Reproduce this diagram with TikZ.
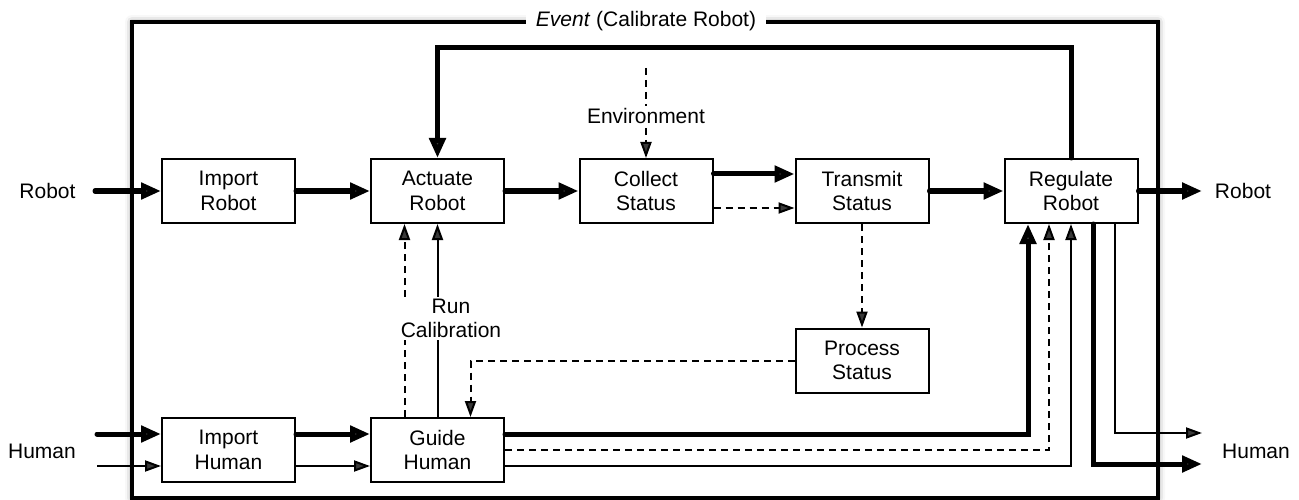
\documentclass[tikz,border=0pt]{standalone}
\usepackage{fontspec}
\setmainfont{Liberation Sans}
\usetikzlibrary{arrows.meta,shadows.blur}

\tikzset{
  block/.style={draw, line width=2pt, minimum width=133pt, minimum height=64pt, inner sep=0pt, align=center},
  big/.style={line width=5pt, line cap=round, -{Triangle[length=20pt,width=16pt]}},
  small/.style={line width=2pt, -{Triangle[length=16pt,width=11pt]}},
  dashflow/.style={small, dash pattern=on 7pt off 5pt},
  tag/.style={fill=white, inner sep=2pt, align=center},
}

\begin{document}
\begin{tikzpicture}[x=1pt,y=-1pt,font=\fontsize{21}{24.5}\selectfont]
    \useasboundingbox (0,0) rectangle (1299,500);
    \draw[line width=4pt, fill=white, blur shadow={shadow xshift=0pt, shadow yshift=0pt, shadow blur radius=7pt, shadow opacity=45}] (132,22) rectangle (1158,498);
    \node[fill=white, inner xsep=10pt, inner ysep=2pt] (title) at (646,21) {\textit{Event} (Calibrate Robot)};

    \node[block] (improb) at (228.5,191) {Import\\Robot};
    \node[block] (act) at (437.5,191) {Actuate\\Robot};
    \node[block] (coll) at (646,191) {Collect\\Status};
    \node[block] (trans) at (862,191) {Transmit\\Status};
    \node[block] (reg) at (1071,191) {Regulate\\Robot};
    \node[block] (proc) at (862,360.5) {Process\\Status};
    \node[block] (imphum) at (228.5,450) {Import\\Human};
    \node[block] (guide) at (437.5,450) {Guide\\Human};

    \node (robotin) at (47.5,191) {Robot};
    \node (humanin) at (42,451) {Human};
    \node (robotout) at (1243,191) {Robot};
    \node (humanout) at (1256,451) {Human};
    \coordinate (rin) at (95,191);
    \coordinate (hin1) at (97,434);
    \coordinate (hin2) at (97,466);
    \coordinate (rout) at (1202,191);
    \coordinate (hout1) at (1202,433);
    \coordinate (hout2) at (1202,464);
    \coordinate (looptop) at (437.5,48);
    \coordinate (envin) at (646,68);

    \draw[big] (rin) -- (improb.west);
    \draw[big] (improb.east) -- (act.west);
    \draw[big] (act.east) -- (coll.west);
    \draw[big] ([yshift=17pt]coll.east) -- ([yshift=17pt]trans.west);
    \draw[dashflow] ([yshift=-17pt]coll.east) -- ([yshift=-17pt]trans.west);
    \draw[big] (trans.east) -- (reg.west);
    \draw[big] (reg.east) -- (rout);
    \draw[big] (reg.north) |- (looptop) -- (act.north);
    \draw[dashflow] (envin) -- (coll.north);
    \draw[dashflow] (trans.south) -- (proc.north);
    \draw[dashflow] (proc.west) -| ([xshift=33pt]guide.north);
    \draw[small] (guide.north) -- (act.south);
    \draw[dashflow] ([xshift=-33pt]guide.north) -- ([xshift=-33pt]act.south);

    \draw[big] (hin1) -- ([yshift=16pt]imphum.west);
    \draw[small] (hin2) -- ([yshift=-16pt]imphum.west);
    \draw[big] ([yshift=16pt]imphum.east) -- ([yshift=16pt]guide.west);
    \draw[small] ([yshift=-16pt]imphum.east) -- ([yshift=-16pt]guide.west);

    \draw[big] ([yshift=16pt]guide.east) -| ([xshift=-43pt]reg.south);
    \draw[dashflow] (guide.east) -| ([xshift=-22pt]reg.south);
    \draw[small] ([yshift=-16pt]guide.east) -| (reg.south);
    \draw[big] ([xshift=22pt]reg.south) |- (hout2);
    \draw[small] ([xshift=44pt]reg.south) |- (hout1);

    \node[tag] (env) at (646,116) {Environment};
    \node[tag] (runcal) at (451,318.5) {Run\\Calibration};
\end{tikzpicture}
\end{document}
